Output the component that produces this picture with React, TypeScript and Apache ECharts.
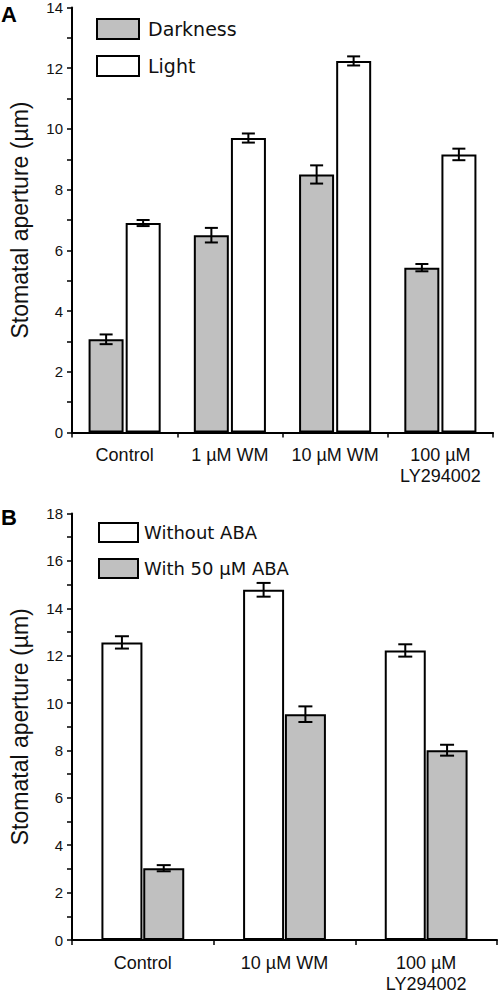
import React, { useEffect, useRef } from "react";
import * as echarts from "echarts";

// Panel A data
const catsA = ["Control", "1 µM WM", "10 µM WM", "100 µM\nLY294002"];
const darkA = [3.07, 6.5, 8.5, 5.43];
const darkErrA = [0.16, 0.24, 0.3, 0.12];
const lightA = [6.9, 9.7, 12.24, 9.16];
const lightErrA = [0.1, 0.15, 0.15, 0.19];

// Panel B data
const catsB = ["Control", "10 µM WM", "100 µM\nLY294002"];
const withoutB = [12.56, 14.78, 12.22];
const withoutErrB = [0.26, 0.29, 0.26];
const withB = [3.03, 9.53, 8.01];
const withErrB = [0.13, 0.33, 0.23];

const yTitle = "Stomatal aperture (µm)";
const FONT = "Liberation Sans, Arial, sans-serif";
const GRAY = "#c0c0c0";

function errSeries(vals: number[], errs: number[], offset: number, axis: number, cap: number) {
  return {
    type: "custom",
    xAxisIndex: axis,
    yAxisIndex: axis,
    z: 10,
    silent: true,
    encode: { x: 0, y: 1 },
    data: vals.map((v, i) => [i, v, errs[i]]),
    renderItem: (params: any, api: any) => {
      const c = api.value(0);
      const v = api.value(1);
      const e = api.value(2);
      const top = api.coord([c, v + e]);
      const bot = api.coord([c, v - e]);
      const x = top[0] + offset;
      const st = { stroke: "#000", lineWidth: 2 };
      return {
        type: "group",
        children: [
          { type: "line", shape: { x1: x, y1: top[1], x2: x, y2: bot[1] }, style: st },
          { type: "line", shape: { x1: x - cap / 2, y1: top[1], x2: x + cap / 2, y2: top[1] }, style: st },
          { type: "line", shape: { x1: x - cap / 2, y1: bot[1], x2: x + cap / 2, y2: bot[1] }, style: st },
        ],
      };
    },
  };
}

function yAxisCfg(max: number, gridIndex: number) {
  return {
    type: "value",
    gridIndex,
    min: 0,
    max,
    interval: 2,
    name: yTitle,
    nameLocation: "middle",
    nameRotate: 90,
    nameGap: 41,
    nameTextStyle: { fontFamily: FONT, fontSize: 23, color: "#111" },
    axisLine: { show: true, lineStyle: { color: "#000", width: 2 } },
    axisTick: { show: true, length: 5, lineStyle: { color: "#000", width: 1.5 } },
    minorTick: { show: true, splitNumber: 2, length: 5, lineStyle: { color: "#000", width: 1.5 } },
    splitLine: { show: false },
    axisLabel: { fontFamily: FONT, fontSize: 15, color: "#111", margin: 9 },
  };
}

function xAxisCfg(cats: string[], gridIndex: number) {
  return {
    type: "category",
    gridIndex,
    data: cats,
    axisLine: { show: true, lineStyle: { color: "#000", width: 2 } },
    axisTick: { show: true, length: 5, lineStyle: { color: "#000", width: 1.5 } },
    axisLabel: { fontFamily: FONT, fontSize: 18, color: "#111", margin: 12, lineHeight: 21, interval: 0 },
  };
}

export default function App() {
  const ref = useRef<HTMLDivElement>(null);
  useEffect(() => {
    document.body.style.margin = "0";
    if (!ref.current) return;
    const chart = echarts.init(ref.current, null, { renderer: "svg" });
    const barStyle = (fill: string) => ({ color: fill, borderColor: "#000", borderWidth: 2 });
    chart.setOption({
      animation: false,
      backgroundColor: "#fff",
      grid: [
        { left: 72, right: 7, top: 7, height: 425.5 },
        { left: 72, right: 3, top: 513.5, height: 426.5 },
      ],
      xAxis: [xAxisCfg(catsA, 0), xAxisCfg(catsB, 1)],
      yAxis: [yAxisCfg(14, 0), yAxisCfg(18, 1)],
      legend: [
        {
          orient: "vertical",
          left: 91,
          top: 13,
          icon: "rect",
          itemWidth: 42,
          itemHeight: 20,
          itemGap: 15,
          data: ["Darkness", "Light"],
          textStyle: { fontFamily: "DejaVu Sans, sans-serif", fontSize: 19, color: "#111", padding: [0, 0, 0, 4] },
        },
        {
          orient: "vertical",
          left: 93,
          top: 517,
          icon: "rect",
          itemWidth: 39,
          itemHeight: 19,
          itemGap: 15,
          data: ["Without ABA", "With 50 µM ABA"],
          textStyle: { fontFamily: "DejaVu Sans, sans-serif", fontSize: 18, color: "#111", padding: [0, 0, 0, 1] },
        },
      ],
      graphic: [
        { type: "text", left: 1, top: 3, style: { text: "A", font: "bold 22px " + FONT, fill: "#000" } },
        { type: "text", left: 1, top: 506, style: { text: "B", font: "bold 22px " + FONT, fill: "#000" } },
      ],
      series: [
        { name: "Darkness", type: "bar", xAxisIndex: 0, yAxisIndex: 0, barWidth: 35, barGap: "6%", data: darkA, itemStyle: barStyle(GRAY) },
        { name: "Light", type: "bar", xAxisIndex: 0, yAxisIndex: 0, barWidth: 35, barGap: "6%", data: lightA, itemStyle: barStyle("#fff") },
        errSeries(darkA, darkErrA, -18.5, 0, 13),
        errSeries(lightA, lightErrA, 18.5, 0, 13),
        { name: "Without ABA", type: "bar", xAxisIndex: 1, yAxisIndex: 1, barWidth: 41, barGap: "2%", data: withoutB, itemStyle: barStyle("#fff") },
        { name: "With 50 µM ABA", type: "bar", xAxisIndex: 1, yAxisIndex: 1, barWidth: 41, barGap: "2%", data: withB, itemStyle: barStyle(GRAY) },
        errSeries(withoutB, withoutErrB, -20.9, 1, 14),
        errSeries(withB, withErrB, 20.9, 1, 14),
      ],
    });
    return () => chart.dispose();
  }, []);
  return <div ref={ref} style={{ position: "absolute", left: 0, top: 0, width: 500, height: 995 }} />;
}
